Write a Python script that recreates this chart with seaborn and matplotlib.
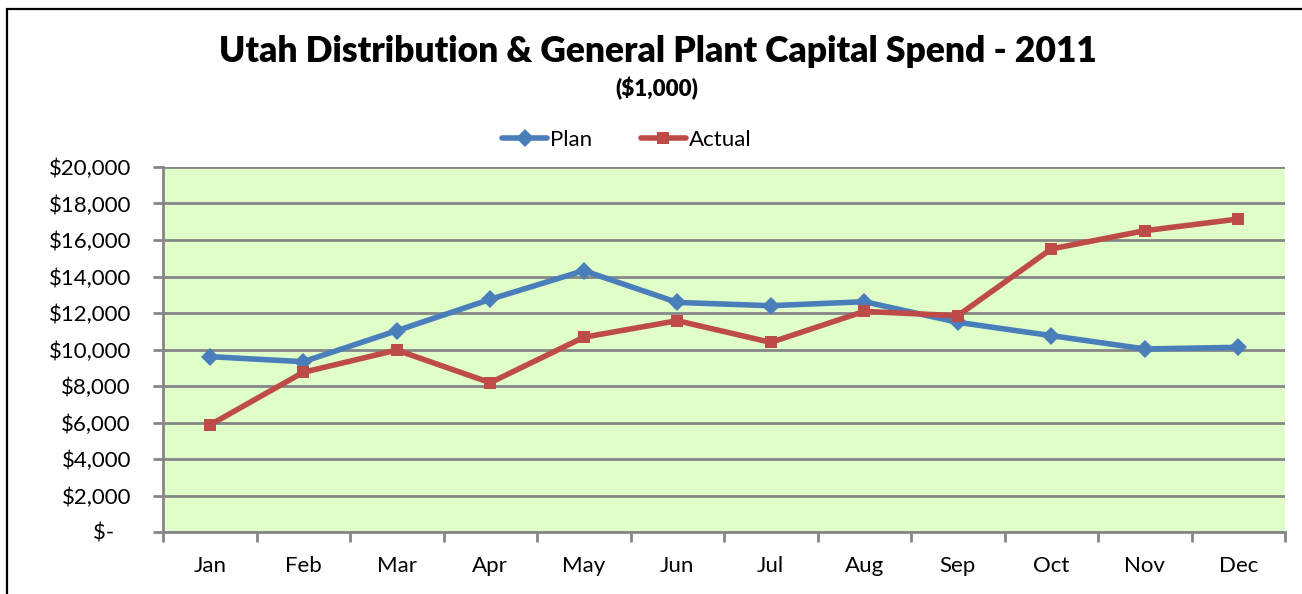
import matplotlib
matplotlib.use("Agg")
import matplotlib.pyplot as plt
import seaborn as sns
import pandas as pd
from matplotlib.patches import Rectangle
from matplotlib.lines import Line2D
from matplotlib.ticker import FuncFormatter, FixedLocator

months = ["Jan", "Feb", "Mar", "Apr", "May", "Jun", "Jul", "Aug", "Sep", "Oct", "Nov", "Dec"]
plan = [9610, 9330, 11030, 12750, 14320, 12580, 12400, 12620, 11490, 10760, 10030, 10120]
actual = [5860, 8750, 9970, 8180, 10670, 11580, 10390, 12090, 11850, 15510, 16510, 17150]
series_names = ["Plan", "Actual"]
title = "Utah Distribution & General Plant Capital Spend - 2011"
subtitle = "($1,000)"

df = pd.DataFrame({
    "Month": months * 2,
    "Value": plan + actual,
    "Series": [series_names[0]] * 12 + [series_names[1]] * 12,
})
df["x"] = [months.index(m) for m in df["Month"]]

sns.set_theme(style="white")
plt.rcParams["font.family"] = ["Lato", "DejaVu Sans"]
plt.rcParams["text.color"] = "black"

fig = plt.figure(figsize=(13.02, 5.94), dpi=100)
ax = fig.add_axes([163 / 1302, 1 - 532 / 594, (1285 - 163) / 1302, (532 - 167) / 594])
ax.set_facecolor("#E0FFC8")

palette = {"Plan": "#4A7EBB", "Actual": "#BE4B48"}
sns.lineplot(data=df, x="x", y="Value", hue="Series", style="Series",
             markers={"Plan": "D", "Actual": "s"}, dashes=False,
             palette=palette, linewidth=4.0, markersize=9,
             markeredgewidth=0, ax=ax, legend=False, zorder=3)

ax.set_xlim(-0.5, 11.5)
ax.set_ylim(0, 20000)
ax.set_yticks(range(0, 20001, 2000))
ax.yaxis.set_major_formatter(FuncFormatter(lambda v, p: "$-   " if v == 0 else f"${int(v):,}"))
ax.set_xticks(range(12))
ax.set_xticklabels(months)
ax.xaxis.set_minor_locator(FixedLocator([i - 0.5 for i in range(13)]))
ax.tick_params(axis="x", which="major", length=0, pad=17, labelsize=16, labelcolor="black")
ax.tick_params(axis="x", which="minor", length=7, width=2, color="#868686", direction="out", bottom=True)
ax.tick_params(axis="y", length=7, width=2, color="#868686", direction="out", left=True,
               labelsize=16, labelcolor="black", pad=16)
ax.set_xlabel("")
ax.set_ylabel("")
ax.grid(axis="y", color="#868686", linewidth=2, zorder=1)
ax.set_axisbelow(True)
for s in ["top", "right"]:
    ax.spines[s].set_visible(False)
for s in ["left", "bottom"]:
    ax.spines[s].set_color("#868686")
    ax.spines[s].set_linewidth(2)

fig.text(658 / 1302, 1 - 52 / 594, title, ha="center", va="center",
         fontsize=25.5, fontweight="heavy", color="black")
fig.text(657 / 1302, 1 - 89 / 594, subtitle, ha="center", va="center",
         fontsize=16, fontweight="heavy", color="black")

handles = []
for name, mk in zip(series_names, ["D", "s"]):
    handles.append(Line2D([], [], color=palette[name], marker=mk, linewidth=4.0,
                          markersize=9, markeredgewidth=0))
fig.legend(handles, series_names, loc="center", bbox_to_anchor=(627 / 1302, 1 - 140 / 594),
           ncol=2, frameon=False, fontsize=16, handlelength=2.0, handletextpad=0.15,
           columnspacing=2.2, labelcolor="black")

fig.patches.append(Rectangle((7 / 1302, -0.1), 1.2, 1 - 9 / 594 + 0.1,
                             transform=fig.transFigure, fill=False,
                             edgecolor="black", linewidth=1.6))

fig.savefig("out.png", dpi=100)
